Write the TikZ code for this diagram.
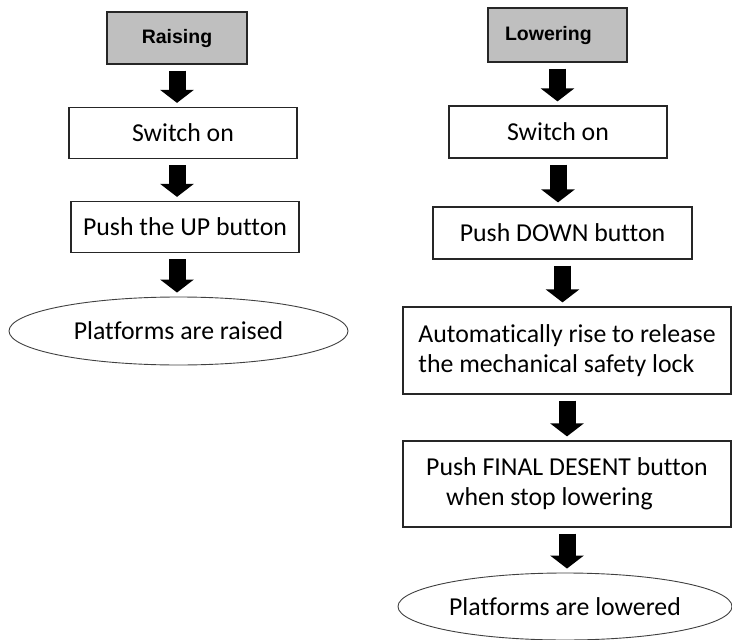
\documentclass[tikz,border=0pt]{standalone}
\usepackage{fontspec}
\setmainfont{Carlito}[Ligatures=CommonOff]
\newfontfamily\headfont{Liberation Sans}
\usetikzlibrary{arrows.meta,shapes.geometric}

\tikzset{
  stepbox/.style={draw=black!85, line width=1.2pt, fill=white, minimum height=51pt, inner sep=0pt, align=center},
  headbox/.style={draw=black!85, line width=1.2pt, fill=black!25, inner sep=0pt, font=\headfont\bfseries\fontsize{19.5}{23}\selectfont},
  endoval/.style={ellipse, draw=black!75, line width=0.9pt, inner sep=0pt},
  blockarrow/.style={line width=17pt, -{Triangle[width=33pt,length=13pt]}, shorten <=6pt, shorten >=4pt}
}

\begin{document}
\begin{tikzpicture}[x=1pt, y=-1pt, every node/.style={font=\fontsize{25.8}{30}\selectfont}]
    \useasboundingbox (0,0) rectangle (732,640);
    % raising column
    \node[headbox, minimum width=140pt, minimum height=52pt] (raise) at (177,38) {Raising};
    \node[stepbox, minimum width=228pt] (lsw) at (183,133) {Switch on};
    \node[stepbox, minimum width=228pt] (lup) at (185,227) {Push the UP button};
    \node[endoval, minimum width=339pt, minimum height=68pt] (lend) at (178.5,331) {Platforms are raised};
    % lowering column
    \node[headbox, text width=105pt, align=left, inner xsep=17pt, minimum height=54pt] (lower) at (557.5,35) {Lowering};
    \node[stepbox, minimum width=218pt, minimum height=52pt] (rsw) at (558,132) {Switch on};
    \node[stepbox, minimum width=259pt, minimum height=52pt] (rdown) at (562.5,233) {Push DOWN button};
    \node[stepbox, minimum width=328pt, minimum height=87pt, align=left] (rauto) at (567,350.5) {Automatically rise to release\\the mechanical safety lock};
    \node[stepbox, minimum width=328pt, minimum height=86pt, align=left] (rfinal) at (567,484) {Push FINAL DESENT button\\\hspace*{20pt}when stop lowering};
    \node[endoval, minimum width=334pt, minimum height=67pt] (rend) at (565,606.5) {Platforms are lowered};
    % block arrows
    \foreach \a/\b/\c in {raise/lsw/raise, lsw/lup/raise, lup/lend/raise, lower/rsw/lower, rsw/rdown/rsw, rdown/rauto/rdown, rauto/rfinal/rauto, rfinal/rend/rfinal} {
        \draw[blockarrow] (\a.south -| \c) -- (\b.north -| \c);
    }
\end{tikzpicture}
\end{document}
